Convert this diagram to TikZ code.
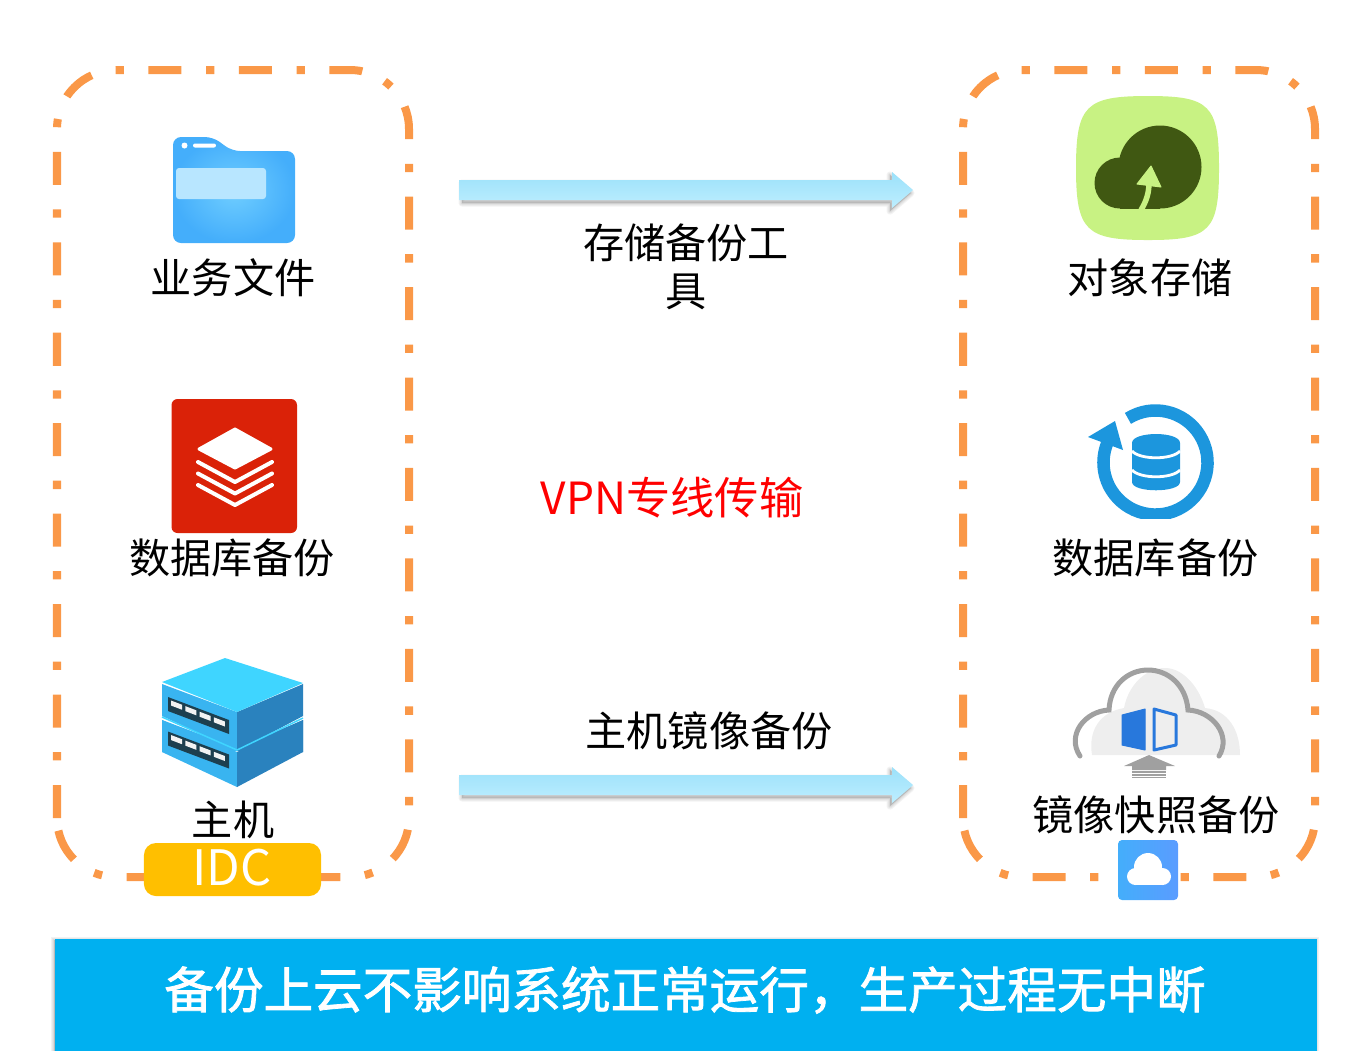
\documentclass[tikz,border=0pt]{standalone}
\usepackage{fontspec}
\setmainfont{Noto Sans CJK SC}
\usepackage{xcolor}
\usetikzlibrary{calc}
\definecolor{dashorange}{RGB}{250,152,72}
\definecolor{idcyellow}{RGB}{255,191,0}
\definecolor{bannerblue}{RGB}{0,176,240}
\definecolor{folderblue}{RGB}{68,174,251}
\definecolor{folderlight}{RGB}{112,206,255}
\definecolor{folderpanel}{RGB}{184,230,255}
\definecolor{flowtop}{RGB}{155,225,250}
\definecolor{flowbottom}{RGB}{190,238,255}
\definecolor{stackred}{RGB}{218,34,8}
\definecolor{rackcyan}{RGB}{63,213,255}
\definecolor{rackblue}{RGB}{57,180,240}
\definecolor{rackdark}{RGB}{42,130,190}
\definecolor{rackslot}{RGB}{29,63,79}
\definecolor{tilegreen}{RGB}{200,242,131}
\definecolor{clouddark}{RGB}{64,88,18}
\definecolor{ringblue}{RGB}{28,150,221}
\definecolor{snapgray}{RGB}{160,160,160}
\definecolor{snappale}{RGB}{238,238,238}
\definecolor{snapblue}{RGB}{40,120,220}
\definecolor{tileright}{RGB}{90,156,255}
\tikzset{
 lbl/.style={align=center,font=\fontsize{11.7}{13.7}\selectfont,inner sep=0pt},
 zonebox/.style={dashorange,line width=0.08cm,rounded corners=0.59cm,dash pattern=on 0.33cm off 0.246cm on 0.083cm off 0.245cm},
 flowarrow/.pic={
  \foreach \w in {0.07,0.05,0.03,0.015}
   \fill[black!60,opacity=0.08,draw=black!60,line width=\w cm,line join=round]
    (3,-10+3) -- (431,-10+3) -- (431,-18+3) -- (452,0+3) -- (431,18+3) -- (431,10+3) -- (3,10+3) -- cycle;
  \shade[top color=flowtop,bottom color=flowbottom]
    (0,-10) -- (433,-10) -- (433,-18) -- (454,0) -- (433,18) -- (433,10) -- (0,10) -- cycle;
 }
}
\begin{document}
\begin{tikzpicture}[x=0.01cm,y=-0.01cm]
\useasboundingbox (0,0) rectangle (1364,1050);
\draw[zonebox] (57,818) -- (57,70) -- (409,70) -- (409,877) -- (57,877) -- (57,818);
\draw[zonebox] (963,818) -- (963,70) -- (1315,70) -- (1315,877) -- (963,877) -- (963,818);

\coordinate (toolstart) at (459,190);
\coordinate (imagestart) at (459,785);
\pic at (toolstart) {flowarrow};
\pic at (imagestart) {flowarrow};

\shade[inner color=folderlight,outer color=folderblue,rounded corners=0.08cm]
 (173,243) -- (173,137) -- (213,137) -- (232,151) -- (295,151) -- (295,243) -- cycle;
\fill[white] (184.5,145.5) circle[radius=3];
\fill[white,rounded corners=0.02cm] (193,143.5) rectangle (216,147.5);
\fill[folderpanel,rounded corners=0.03cm] (176,168) -- (266,168) -- (266,199) -- (176,199) -- cycle;
\node[lbl] (filelbl) at (233,278) {业务文件};

\fill[stackred,rounded corners=0.06cm] (171.5,399) rectangle (297,533);
\fill[white,draw=white,line width=0.03cm,line join=round] (235,429) -- (271,449) -- (235,468) -- (199,449) -- cycle;
\foreach \y in {462,473.5,485}
 \draw[white,line width=0.04cm,line cap=round,line join=round] (198,\y) -- (235,\y+20) -- (272,\y);
\node[lbl] (dblbl) at (232,558) {数据库备份};

\foreach \d in {0,36}{
 \fill[rackblue] (162,684+\d) -- (237,712+\d) -- (237,751) -- (162,716+\d) -- cycle;
 \fill[rackdark] (237,712+\d) -- (303,684+\d) -- (303,716+\d) -- (237,751) -- cycle;
}
\fill[rackblue] (162,720) -- (237,752) -- (237,787) -- (162,752) -- cycle;
\fill[rackdark] (237,752) -- (303,720) -- (303,752) -- (237,787) -- cycle;
\fill[rackcyan] (225,658) -- (303,683) -- (237,712) -- (162,682) -- cycle;
\draw[rackcyan,line width=0.015cm] (162,717) -- (237,750) -- (303,718);
\foreach \d in {0,34.5}{
 \fill[rackslot] (168,697+\d) -- (229,720+\d) -- (229,734+\d) -- (168,711+\d) -- cycle;
 \foreach \i in {0,1,2,3}
  \fill[white!90!gray] ({171+14.3*\i},{700.5+5.6*\i+\d}) -- ({182+14.3*\i},{704.7+5.6*\i+\d}) -- ({182+14.3*\i},{709.7+5.6*\i+\d}) -- ({171+14.3*\i},{705.5+5.6*\i+\d}) -- cycle;
}
\node[lbl] (hostlbl) at (233,820) {主机};
\node[fill=idcyellow,rounded corners=0.12cm,minimum width=1.77cm,minimum height=0.53cm,inner sep=0pt] (idc) at (232.5,869.5) {};
\node[lbl,text=white,font=\fontsize{13.9}{15}\selectfont] (idclbl) at (232,867.5) {IDC};

\node[lbl] (toollbl) at (686,267) {存储备份工\\具};
\node[lbl,text=red,font=\fontsize{12.6}{14}\selectfont] (vpnlbl) at (672,498) {VPN专线传输};
\node[lbl] (imagelbl) at (709,731) {主机镜像备份};

\fill[tilegreen] (1148,96) .. controls (1210,96) and (1219,105) .. (1219,168) .. controls (1219,231) and (1210,240) .. (1148,240) .. controls (1086,240) and (1076,231) .. (1076,168) .. controls (1076,105) and (1086,96) .. (1148,96) -- cycle;
\fill[clouddark] (1160,167) circle[radius=41.5];
\fill[clouddark] (1120,183) circle[radius=25.5];
\fill[clouddark] (1120,190) rectangle (1160,208.5);
\draw[tilegreen,line width=0.055cm] (1141,210) .. controls (1147,200) and (1149,192) .. (1149,182);
\fill[tilegreen,draw=tilegreen,line width=0.01cm,line join=round] (1151,166) -- (1137,184) -- (1161,187) -- cycle;
\node[lbl] (objlbl) at (1150,278) {对象存储};

\begin{scope}
\clip (1080,395) rectangle (1225,518.5);
\draw[ringblue,line width=0.125cm] (1155.5,462.5) ++(122:0.52cm) arc[start angle=122,end angle=-205,radius=0.52cm];
\end{scope}
\fill[ringblue] (1088,437) -- (1115,421) -- (1123,450) -- cycle;
\fill[ringblue] (1132,443) .. controls (1132,431) and (1180,431) .. (1180,443) -- (1180,482) .. controls (1180,493) and (1132,493) .. (1132,482) -- cycle;
\foreach \y in {451,470}
 \draw[white,line width=0.028cm] (1132,\y) .. controls (1140,\y+9) and (1172,\y+9) .. (1180,\y);
\node[lbl] (dbbaklbl) at (1155.5,558) {数据库备份};

\fill[snappale] (1092,755) .. controls (1088,730) and (1100,712) .. (1124,708) .. controls (1128,686) and (1145,668) .. (1165,668) .. controls (1185,668) and (1200,690) .. (1205,708) .. controls (1228,710) and (1240,730) .. (1240,755) -- cycle;
\draw[snapgray,line width=0.05cm,line cap=round] (1080,756) .. controls (1066,735) and (1085,711) .. (1109,710) .. controls (1110,685) and (1128,670) .. (1148,670) .. controls (1168,670) and (1186,685) .. (1188,710) .. controls (1212,711) and (1232,735) .. (1219,756);
\fill[snapblue,draw=snapblue,line width=0.01cm,line join=round] (1122,715) -- (1145,709) -- (1145,750) -- (1122,745) -- cycle;
\draw[snapblue,line width=0.03cm,line join=round] (1154,709) -- (1176,715) -- (1176,745) -- (1154,750) -- cycle;
\fill[snapgray] (1149,755) -- (1175,766) -- (1166,766) -- (1166,770) -- (1132,770) -- (1132,766) -- (1124,766) -- cycle;
\foreach \y in {772,775,777.5}
 \draw[snapgray,line width=0.012cm] (1132,\y) -- (1166,\y);
\node[lbl] (snaplbl) at (1156,815) {镜像快照备份};
\shade[left color=folderblue,right color=tileright,rounded corners=0.04cm] (1118,840) rectangle (1178,900);
\fill[white] (1148,867) circle[radius=14] (1135.5,876.5) circle[radius=8.5] (1162.5,876.5) circle[radius=8.5];
\fill[white] (1135.5,870) rectangle (1162.5,885);

\foreach \w in {0.06,0.04,0.02}
 \fill[black,opacity=0.05,draw=black,line width=\w cm] (54,940) rectangle (1316,1060);
\node[fill=bannerblue,minimum width=12.62cm,minimum height=1.14cm,inner sep=0pt,anchor=north west] (banner) at (54,938) {};
\node[lbl,text=white,font=\fontsize{14.1}{16}\selectfont\addfontfeature{FakeBold=1.6}] (bannerlbl) at (685,990) {备份上云不影响系统正常运行，生产过程无中断};
\end{tikzpicture}
\end{document}
